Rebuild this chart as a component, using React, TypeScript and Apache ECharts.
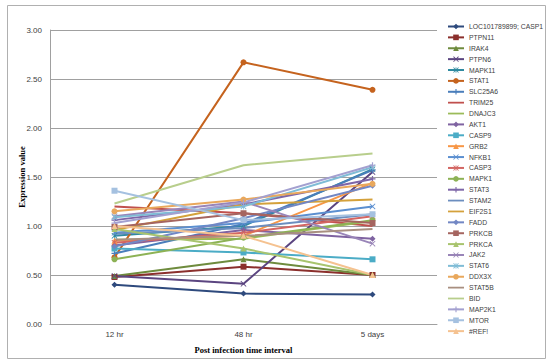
import React, { useEffect, useRef } from "react";
import * as echarts from "echarts";

const categories = ["12 hr", "48 hr", "5 days"];
const seriesNames = [
  "LOC101789899; CASP1", "PTPN11", "IRAK4", "PTPN6", "MAPK11", "STAT1", "SLC25A6", "TRIM25",
  "DNAJC3", "AKT1", "CASP9", "GRB2", "NFKB1", "CASP3", "MAPK1", "STAT3", "STAM2", "EIF2S1",
  "FADD", "PRKCB", "PRKCA", "JAK2", "STAT6", "DDX3X", "STAT5B", "BID", "MAP2K1", "MTOR", "#REF!",
];
const v_LOC = [0.40, 0.31, 0.30];
const v_PTPN11 = [0.48, 0.585, 0.50];
const v_IRAK4 = [0.49, 0.66, 0.50];
const v_PTPN6 = [0.49, 0.41, 1.55];
const v_MAPK11 = [0.90, 1.00, 1.58];
const v_STAT1 = [0.68, 2.67, 2.39];
const v_SLC25A6 = [0.72, 1.02, 1.57];
const v_TRIM25 = [1.20, 1.13, 1.00];
const v_DNAJC3 = [0.86, 0.87, 1.05];
const v_AKT1 = [0.80, 0.96, 0.87];
const v_CASP9 = [0.77, 0.73, 0.66];
const v_GRB2 = [0.85, 0.90, 1.44];
const v_NFKB1 = [0.93, 1.03, 1.20];
const v_CASP3 = [0.83, 0.93, 1.10];
const v_MAPK1 = [0.66, 0.88, 1.06];
const v_STAT3 = [1.06, 1.22, 1.48];
const v_STAM2 = [0.92, 0.98, 1.12];
const v_EIF2S1 = [0.96, 1.22, 1.27];
const v_FADD = [0.79, 1.08, 1.41];
const v_PRKCB = [0.99, 1.13, 1.03];
const v_PRKCA = [0.97, 0.77, 0.50];
const v_JAK2 = [1.10, 1.25, 0.82];
const v_STAT6 = [1.09, 1.20, 1.60];
const v_DDX3X = [1.15, 1.27, 1.43];
const v_STAT5B = [0.86, 0.90, 0.97];
const v_BID = [1.23, 1.62, 1.74];
const v_MAP2K1 = [1.03, 1.24, 1.62];
const v_MTOR = [1.36, 1.06, 1.12];
const v_REF = [1.00, 0.90, 0.50];

const seriesValues = [
  v_LOC, v_PTPN11, v_IRAK4, v_PTPN6, v_MAPK11, v_STAT1, v_SLC25A6, v_TRIM25, v_DNAJC3, v_AKT1,
  v_CASP9, v_GRB2, v_NFKB1, v_CASP3, v_MAPK1, v_STAT3, v_STAM2, v_EIF2S1, v_FADD, v_PRKCB,
  v_PRKCA, v_JAK2, v_STAT6, v_DDX3X, v_STAT5B, v_BID, v_MAP2K1, v_MTOR, v_REF,
];
const yTicks = [0, 0.5, 1, 1.5, 2, 2.5, 3];

const PLUS = "path://M4,0H6V4H10V6H6V10H4V6H0V4H4Z";
const XS = "path://M0,1L1,0L5,4L9,0L10,1L6,5L10,9L9,10L5,6L1,10L0,9L4,5Z";
const STAR = "path://M0,1L1,0L5,4L9,0L10,1L6,5L10,9L9,10L5,6L1,10L0,9L4,5ZM4.4,0H5.6V10H4.4Z";
const LINE_ICON = "path://M0,0H18V2H0Z";

const colors = [
  "#2E4A7D", "#8B2F2C", "#6E8B3D", "#5B4580", "#2F8AA0", "#C5631E", "#4A7EBB", "#C0504D",
  "#9BBB59", "#7F63A1", "#4BACC6", "#F79646", "#5B8FD0", "#D36663", "#8DB255", "#7E66A8",
  "#6C8EBF", "#D4A13B", "#7287C4", "#A56560", "#A8C46E", "#9985B8", "#7FBCD6", "#E9A85C",
  "#A88F80", "#B8CE8C", "#A3A0D0", "#A5C1E0", "#F5C290",
];
const symbols = [
  "diamond", "rect", "triangle", XS, STAR, "circle", PLUS, "none",
  "none", "diamond", "rect", "triangle", XS, STAR, "circle", PLUS, "none", "none",
  "diamond", "rect", "triangle", XS, STAR, "circle", "none", "none", PLUS, "rect", "triangle",
];

export default function App() {
  const ref = useRef<HTMLDivElement>(null);
  useEffect(() => {
    if (!ref.current) return;
    const chart = echarts.init(ref.current, null, { renderer: "svg" });
    const series = seriesNames.map((name, i) => ({
      name,
      type: "line",
      data: seriesValues[i],
      symbol: symbols[i],
      symbolSize: 6,
      showSymbol: symbols[i] !== "none",
      lineStyle: { width: 2, color: colors[i] },
      itemStyle: { color: colors[i] },
      emphasis: { disabled: true },
    }));
    const legendData = seriesNames.map((name, i) =>
      symbols[i] === "none" ? { name, icon: LINE_ICON, itemStyle: { color: colors[i] } } : { name }
    );
    chart.setOption({
      animation: false,
      color: colors,
      textStyle: { fontFamily: "Liberation Sans" },
      graphic: [
        {
          type: "rect",
          shape: { x: 7.5, y: 5.5, width: 538, height: 353 },
          style: { fill: "none", stroke: "#B0B0B0", lineWidth: 1 },
        },
      ],
      grid: { left: 50, right: 113, top: 30, bottom: 39, containLabel: false },
      legend: {
        orient: "vertical",
        left: 447,
        top: 23,
        padding: 0,
        itemWidth: 16,
        itemHeight: 7,
        itemGap: 3.88,
        textStyle: { fontSize: 6.8, color: "#404040", lineHeight: 7 },
        data: legendData,
      },
      xAxis: {
        type: "category",
        data: categories,
        boundaryGap: true,
        axisLine: { lineStyle: { color: "#A0A0A0", width: 1 } },
        axisTick: { show: false },
        axisLabel: { fontSize: 8, color: "#404040", margin: 6 },
        name: "Post infection time interval",
        nameLocation: "middle",
        nameGap: 21,
        nameMoveOverlap: false,
        nameTextStyle: { fontFamily: "Liberation Serif", fontWeight: "bold", fontSize: 8.5, color: "#000" },
      },
      yAxis: {
        type: "value",
        min: yTicks[0],
        max: yTicks[yTicks.length - 1],
        interval: 0.5,
        axisLine: { show: true, lineStyle: { color: "#A0A0A0", width: 1 } },
        axisTick: { show: false },
        splitLine: { lineStyle: { color: "#A0A0A0", width: 1 } },
        axisLabel: { fontSize: 8, color: "#404040", margin: 8, formatter: (v: number) => v.toFixed(2) },
        name: "Expression value",
        nameLocation: "middle",
        nameRotate: 90,
        nameGap: 24,
        nameMoveOverlap: false,
        nameTextStyle: { fontFamily: "Liberation Serif", fontWeight: "bold", fontSize: 8.5, color: "#000" },
      },
      series,
    });
    return () => chart.dispose();
  }, []);
  return (
    <div
      ref={ref}
      style={{ position: "fixed", left: 0, top: 0, width: 550, height: 363, background: "#fff" }}
    />
  );
}
